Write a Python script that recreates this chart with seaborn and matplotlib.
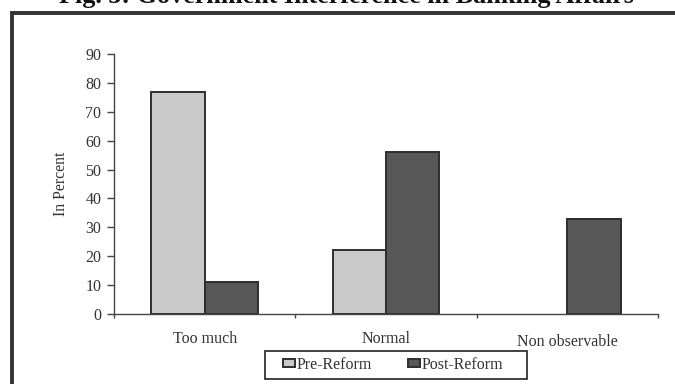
import numpy as np
import pandas as pd
import matplotlib
matplotlib.use("Agg")
import matplotlib.pyplot as plt
from matplotlib.patches import Rectangle, Patch
import seaborn as sns

categories = ["Too much", "Normal", "Non observable"]
pre_reform = [77, 22, np.nan]
post_reform = [11, 56, 33]
series_names = ["Pre-Reform", "Post-Reform"]
y_ticks = [0, 10, 20, 30, 40, 50, 60, 70, 80, 90]

df = pd.DataFrame({
    "Category": categories * 2,
    "Value": pre_reform + post_reform,
    "Period": [series_names[0]] * 3 + [series_names[1]] * 3,
})

sns.set_theme(style="white")
plt.rcParams["font.family"] = ["Liberation Serif", "DejaVu Serif"]

fill = {"Pre-Reform": "#c9c9c9", "Post-Reform": "#575757"}
edge = "#2e2e2e"
ink = "#444444"
text_col = "#333333"

fig = plt.figure(figsize=(6.75, 3.84), dpi=100)
ax = fig.add_axes([114 / 675, 1 - 314 / 384, (658 - 114) / 675, (314 - 54) / 384])

sns.barplot(data=df, x="Category", y="Value", hue="Period", order=categories,
            hue_order=series_names, palette=fill, width=0.59, ax=ax,
            edgecolor=edge, linewidth=1.4, legend=False, saturation=1)

ax.set_xlim(-0.5, 2.5)
ax.set_ylim(0, 90)
ax.set_yticks(y_ticks)
ax.set_xlabel("")
ax.set_ylabel("In Percent", fontsize=11.3, color=text_col, labelpad=12)

for s in ("top", "right"):
    ax.spines[s].set_visible(False)
for s in ("left", "bottom"):
    ax.spines[s].set_color(ink)
    ax.spines[s].set_linewidth(1.0)

ax.tick_params(axis="y", direction="out", length=5, width=1, color=ink,
               labelsize=11.5, labelcolor=text_col, pad=4, left=True)
ax.set_xticks([0, 1, 2])
ax.set_xticklabels(categories)
ax.set_xticks([-0.5, 0.5, 1.5, 2.5], minor=True)
ax.tick_params(axis="x", which="major", length=0, labelsize=11.5,
               labelcolor=text_col, pad=12)
ax.tick_params(axis="x", which="minor", direction="out", length=3, width=1,
               color=ink, bottom=True)
# the last category label sits slightly lower
lbl = ax.get_xticklabels()[2]
lbl.set_y(-0.012)

# legend entries spread over the inner part of the legend box
handles = [Patch(facecolor=fill[n], edgecolor=edge, linewidth=1.4, label=n)
           for n in series_names]
leg = fig.legend(handles=handles, loc="center",
                 bbox_to_anchor=(283 / 675, 1 - 379 / 384, 220 / 675, 28 / 384),
                 mode="expand", ncol=2, frameon=False, fontsize=11.5,
                 handlelength=0.75, handleheight=0.4, handletextpad=0.1,
                 columnspacing=2.0, borderpad=0.0, borderaxespad=0)
for t in leg.get_texts():
    t.set_color(text_col)

# legend box
fig.patches.append(Rectangle((265 / 675, 1 - 379 / 384), 262 / 675, 28 / 384,
                             transform=fig.transFigure, fill=False,
                             edgecolor=text_col, linewidth=1.3))

# page frame around the chart
fig.patches.append(Rectangle((12 / 675, -0.1), 1.2, 1 - 13.5 / 384 + 0.1,
                             transform=fig.transFigure, fill=False,
                             edgecolor="#333333", linewidth=2.8))

fig.text(0.513, 1 - 3 / 384, "Fig. 3: Government Interference in Banking Affairs",
         ha="center", va="baseline", fontsize=18.8, fontweight="bold", color="#111111")

fig.savefig("out.png", dpi=100)
